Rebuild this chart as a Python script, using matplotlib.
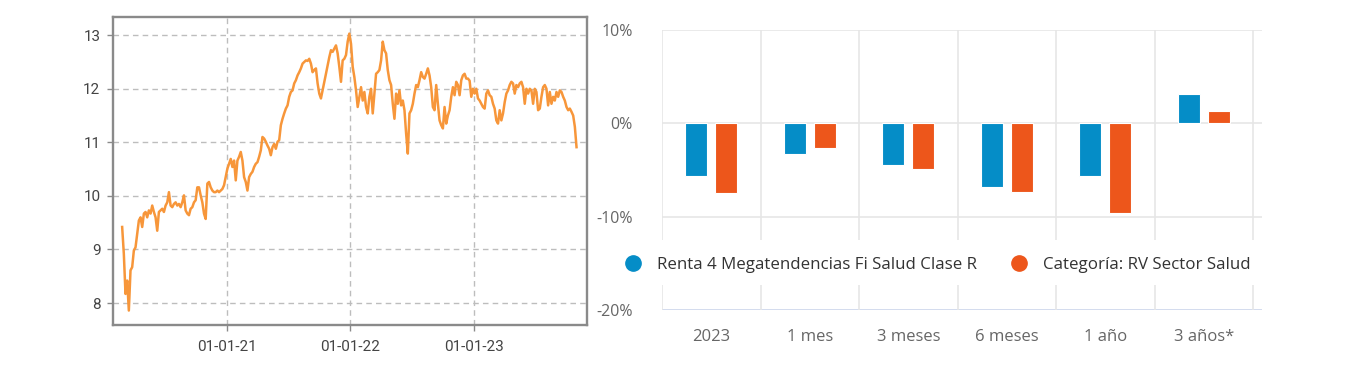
import numpy as np
import pandas as pd
import matplotlib
matplotlib.use('Agg')
import matplotlib.pyplot as plt
import matplotlib.dates as mdates
from matplotlib.lines import Line2D
from matplotlib.patches import Rectangle

# ---------------- data ----------------
price_start = '2020-02-28'
price_end = '2023-10-30'
price_values = [
    9.42, 8.92, 8.17, 8.42, 7.86, 8.61, 8.67, 8.98, 9.04, 9.29,
    9.54, 9.60, 9.42, 9.67, 9.70, 9.60, 9.73, 9.67, 9.82, 9.70,
    9.60, 9.35, 9.70, 9.73, 9.76, 9.70, 9.82, 9.88, 10.07, 9.82,
    9.79, 9.85, 9.88, 9.82, 9.85, 9.79, 9.88, 10.01, 9.73, 9.67,
    9.64, 9.76, 9.79, 9.88, 9.92, 10.16, 10.16, 10.01, 9.88, 9.67,
    9.57, 10.23, 10.26, 10.16, 10.10, 10.07, 10.07, 10.10, 10.07, 10.10,
    10.13, 10.20, 10.35, 10.51,
    10.60, 10.69, 10.54, 10.66, 10.29, 10.66, 10.73, 10.82, 10.66, 10.35,
    10.26, 10.10, 10.35, 10.41, 10.45, 10.54, 10.60, 10.63, 10.73, 10.85,
    11.10, 11.07, 11.01, 10.94, 10.88, 10.76, 10.91, 10.97, 10.88, 11.01,
    11.04, 11.32, 11.44, 11.54, 11.63, 11.69, 11.85, 11.94, 11.97, 12.10,
    12.16, 12.25, 12.31, 12.38, 12.47, 12.50, 12.53, 12.52, 12.56, 12.47,
    12.31, 12.35, 12.38, 12.10, 11.91, 11.82, 11.97, 12.13, 12.28, 12.44,
    12.59, 12.72, 12.69, 12.75, 12.81, 12.66, 12.41, 12.13, 12.53, 12.56,
    12.63, 12.88,
    13.03, 12.84, 12.41, 12.22, 11.97, 11.66, 11.85, 12.03, 11.78, 11.94,
    11.66, 11.54, 11.85, 12.00, 11.54, 11.91, 12.28, 12.31, 12.35, 12.53,
    12.88, 12.72, 12.66, 12.35, 12.16, 12.07, 11.72, 11.44, 11.91, 11.72,
    11.97, 11.69, 11.78, 11.60, 11.16, 10.79, 11.54, 11.60, 11.72, 11.91,
    12.07, 12.03, 12.16, 12.31, 12.22, 12.19, 12.28, 12.38, 12.25, 12.03,
    11.66, 11.60, 12.07, 11.72, 11.41, 11.32, 11.26, 11.66, 11.35, 11.50,
    11.60, 11.85, 12.03, 11.88, 12.13, 12.07, 11.88, 12.16, 12.25, 12.28,
    12.19, 12.19,
    12.15, 11.85, 12.00, 11.91, 12.00, 11.82, 11.78, 11.72, 11.66, 11.63,
    11.91, 11.97, 11.88, 11.85, 11.72, 11.63, 11.41, 11.35, 11.60, 11.41,
    11.54, 11.75, 11.91, 11.97, 12.07, 12.13, 12.10, 11.91, 12.07, 12.03,
    12.10, 12.13, 12.03, 11.72, 12.00, 11.91, 12.00, 11.97, 11.72, 12.00,
    11.94, 11.60, 11.63, 11.85, 12.03, 12.07, 12.00, 11.69, 11.94, 11.72,
    11.85, 11.78, 11.94, 11.85, 11.97, 11.94, 11.85, 11.78, 11.66, 11.60,
    11.63, 11.57, 11.50, 11.29, 10.91,
]
price_yticks = [8, 9, 10, 11, 12, 13]
date_ticks = ['2021-01-01', '2022-01-01', '2023-01-01']
date_xlim = ['2020-02-01', '2023-11-29']

categories = ['2023', '1 mes', '3 meses', '6 meses', '1 año', '3 años*']
fund_returns = [-5.68, -3.31, -4.42, -6.87, -5.68, 3.13]
category_returns = [-7.48, -2.62, -4.89, -7.34, -9.56, 1.37]
series_names = ['Renta 4 Megatendencias Fi Salud Clase R', 'Categoría: RV Sector Salud']
return_ticks = [-20, -10, 0, 10]

# ---------------- style ----------------
W, H = 1365, 378
fig = plt.figure(figsize=(W / 100, H / 100), dpi=100)
fig.patch.set_facecolor('white')

LINE_COLOR = '#F7963A'
BLUE = '#058DC7'
ORANGE = '#ED561B'


def fig_rect(left, top, right, bottom):
    return [left / W, 1 - bottom / H, (right - left) / W, (bottom - top) / H]


# ---------------- left: price line ----------------
ax1 = fig.add_axes(fig_rect(113, 17, 586.7, 325))
dates = pd.date_range(price_start, price_end, periods=len(price_values))
ax1.plot(dates, price_values, color=LINE_COLOR, lw=1.8, zorder=3)
ax1.set_xlim(pd.to_datetime(date_xlim[0]), pd.to_datetime(date_xlim[1]))
ax1.set_ylim(7.59, 13.34)
ax1.set_yticks(price_yticks)
ax1.set_xticks(pd.to_datetime(date_ticks))
ax1.xaxis.set_major_formatter(mdates.DateFormatter('%d-%m-%y'))
ax1.grid(True, color='#bdbdbd', linestyle=(0, (4, 3)), lw=1.0)
for s in ax1.spines.values():
    s.set_color('#8a8a8a')
    s.set_linewidth(1.7)
ax1.tick_params(axis='both', colors='#8a8a8a', length=4, width=1,
                labelcolor='#444444', labelsize=11)
ax1.tick_params(axis='y', pad=5)
ax1.tick_params(axis='x', pad=7)
for lab in ax1.get_xticklabels() + ax1.get_yticklabels():
    lab.set_fontfamily('Roboto')

# ---------------- right: returns bars ----------------
ax2 = fig.add_axes(fig_rect(662, 30, 1262, 310))
x = np.arange(len(categories))
bw = 0.224
off = 0.152
ax2.bar(x - off, fund_returns, width=bw, color=BLUE, edgecolor='white', lw=0.8, zorder=3)
ax2.bar(x + off, category_returns, width=bw, color=ORANGE, edgecolor='white', lw=0.8, zorder=3)
ax2.set_xlim(-0.5, 5.59)
ax2.set_ylim(-20, 10)
for v in return_ticks[1:]:
    ax2.axhline(v, color='#e6e6e6', lw=1.2, zorder=1)
ax2.axhline(return_ticks[0], color='#ccd6eb', lw=1.2, zorder=1)
for b in np.arange(-0.5, len(categories) + 0.5, 1.0):
    ax2.axvline(b, color='#e6e6e6', lw=1.2, zorder=1)
for s in ax2.spines.values():
    s.set_visible(False)
ax2.set_yticks(return_ticks)
ax2.set_yticklabels([f'{t}%' for t in return_ticks])
ax2.set_xticks(x)
ax2.set_xticklabels(categories)
ax2.tick_params(axis='both', length=0, labelcolor='#666666')
ax2.tick_params(axis='y', pad=21, labelsize=11.5)
ax2.tick_params(axis='x', pad=14, labelsize=12)
for lab in ax2.get_xticklabels() + ax2.get_yticklabels():
    lab.set_fontfamily('Open Sans')

# white band behind legend
ax2.add_patch(Rectangle((0, 0.089), 1.02, 0.161, transform=ax2.transAxes,
                        facecolor='white', edgecolor='none', zorder=2, clip_on=False))

handles = [Line2D([], [], marker='o', ls='none', markersize=11, color=BLUE),
           Line2D([], [], marker='o', ls='none', markersize=11, color=ORANGE)]
leg = fig.legend(handles, series_names, loc='center left',
                 bbox_to_anchor=(626.3 / W, 1 - 265 / H), ncol=2, frameon=False,
                 handlelength=0.8, handletextpad=1.0, columnspacing=2.1,
                 borderpad=0, borderaxespad=0,
                 prop={'family': 'Open Sans', 'size': 12.2})
for t in leg.get_texts():
    t.set_color('#333333')

fig.savefig('out.png', dpi=100, facecolor='white')
